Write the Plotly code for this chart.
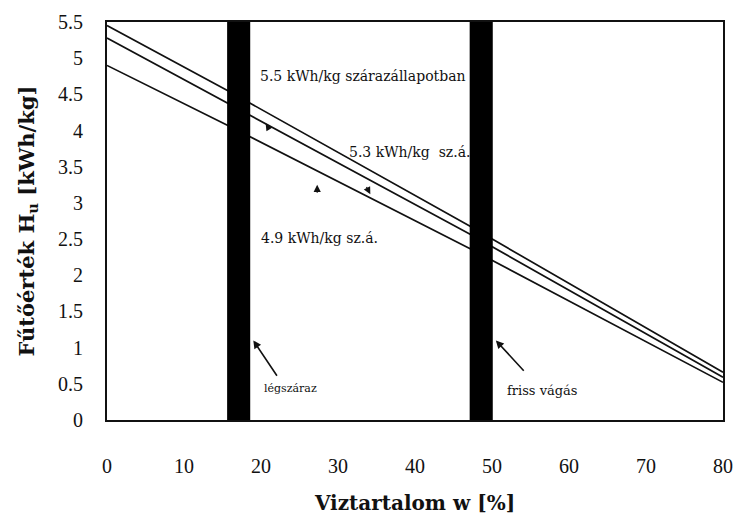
import plotly.graph_objects as go

# Water content (%) sample points
w_points = [0, 15.7, 47.1, 80]
# Heating value curves (kWh/kg) for three dry-state heating values
hu_55 = [5.45, 4.55, 2.68, 0.66]
hu_53 = [5.28, 4.38, 2.57, 0.59]
hu_49 = [4.90, 4.07, 2.37, 0.52]

# Moisture bands (water content %)
band_air_dry = [15.6, 18.6]
band_fresh = [47.1, 50.1]

x_ticks = [0, 10, 20, 30, 40, 50, 60, 70, 80]
y_ticks = [0, 0.5, 1, 1.5, 2, 2.5, 3, 3.5, 4, 4.5, 5, 5.5]

FONT = "Liberation Serif"
AFONT = "DejaVu Serif"

fig = go.Figure()
for ys in (hu_55, hu_53, hu_49):
    fig.add_trace(go.Scatter(x=w_points, y=ys, mode="lines",
                             line=dict(color="#111", width=1.7), showlegend=False,
                             hoverinfo="skip"))

for band in (band_air_dry, band_fresh):
    fig.add_shape(type="rect", xref="x", yref="y", x0=band[0], x1=band[1], y0=0, y1=5.5,
                  fillcolor="black", line=dict(width=0), layer="above")

txt = dict(family=AFONT, size=14, color="#111")
fig.add_annotation(x=19.6, y=4.75, text="5.5 kWh/kg szárazállapotban", showarrow=False,
                   xanchor="left", font=txt)
fig.add_annotation(x=31.2, y=3.70, text="5.3 kWh/kg  sz.á.", showarrow=False,
                   xanchor="left", font=txt)
fig.add_annotation(x=19.7, y=2.51, text="4.9 kWh/kg sz.á.", showarrow=False,
                   xanchor="left", font=txt)
fig.add_annotation(x=23.8, y=0.44, text="légszáraz", showarrow=False,
                   font=dict(family=AFONT, size=11, color="#111"))
fig.add_annotation(x=56.6, y=0.41, text="friss vágás", showarrow=False,
                   font=dict(family=AFONT, size=13, color="#111"))

# arrows
fig.add_annotation(x=19.0, y=1.1, ax=22.2, ay=0.59, xref="x", yref="y", axref="x", ayref="y",
                   text="", showarrow=True, arrowhead=2, arrowsize=1, arrowwidth=1.6, arrowcolor="#111")
fig.add_annotation(x=50.5, y=1.1, ax=54.3, ay=0.66, xref="x", yref="y", axref="x", ayref="y",
                   text="", showarrow=True, arrowhead=2, arrowsize=1, arrowwidth=1.6, arrowcolor="#111")
# small arrowheads near curves
fig.add_annotation(x=20.6, y=4.10, ax=21.2, ay=4.0, xref="x", yref="y", axref="x", ayref="y",
                   text="", showarrow=True, arrowhead=2, arrowsize=1.2, arrowwidth=1.2, arrowcolor="#111")
fig.add_annotation(x=27.3, y=3.25, ax=27.3, ay=3.12, xref="x", yref="y", axref="x", ayref="y",
                   text="", showarrow=True, arrowhead=2, arrowsize=1.2, arrowwidth=1.2, arrowcolor="#111")
fig.add_annotation(x=34.2, y=3.12, ax=33.6, ay=3.24, xref="x", yref="y", axref="x", ayref="y",
                   text="", showarrow=True, arrowhead=2, arrowsize=1.2, arrowwidth=1.2, arrowcolor="#111")

fig.update_layout(
    width=738, height=515,
    margin=dict(l=107, r=15, t=22, b=95, autoexpand=False),
    plot_bgcolor="white", paper_bgcolor="white",
    font=dict(family=FONT, size=20, color="#111"),
    showlegend=False,
)
fig.update_xaxes(range=[0, 80], tickvals=x_ticks, ticktext=[str(v) for v in x_ticks],
                 tickfont=dict(family=FONT, size=20),
                 showgrid=False, zeroline=False, showline=True, linecolor="#111", linewidth=1.8,
                 mirror=True, ticks="outside", ticklen=27, tickcolor="white", automargin=False,
                 title=dict(text="<b>Viztartalom w [%]</b>", font=dict(family=AFONT, size=20),
                            standoff=22))
fig.update_yaxes(range=[0, 5.5], tickvals=y_ticks,
                 ticktext=[("%g" % v) for v in y_ticks],
                 tickfont=dict(family=FONT, size=20),
                 showgrid=False, zeroline=False, showline=True, linecolor="#111", linewidth=1.8,
                 mirror=True, ticks="outside", ticklen=18, tickcolor="white", automargin=False,
                 title=dict(text="<b>Fűtőérték H<sub>u</sub> [kWh/kg]</b>",
                            font=dict(family=AFONT, size=21), standoff=18))

fig.write_html("out.html", config={"displayModeBar": False},
               post_script="document.body.style.margin='0';")
